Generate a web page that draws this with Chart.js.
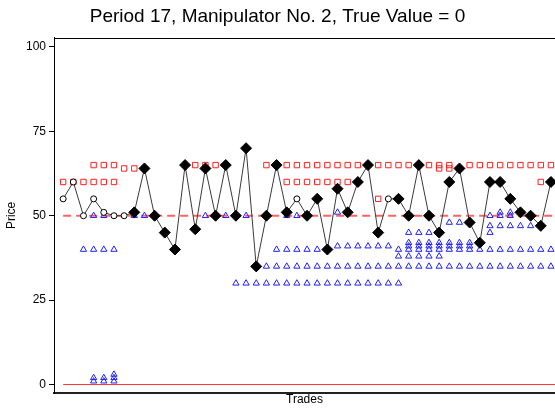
<!DOCTYPE html>
<html>
<head>
<meta charset="utf-8">
<script src="https://cdn.jsdelivr.net/npm/chart.js@4.4.0/dist/chart.umd.min.js"></script>
<style>
  html, body { margin: 0; padding: 0; background: #fff; }
  .period-chart { width: 555px; height: 408px; }
</style>
</head>
<body>
<div class="period-chart"><canvas class="period-chart__canvas" width="555" height="408"></canvas></div>
<script>
const chartTitle = 'Period 17, Manipulator No. 2, True Value = 0';

// transaction prices, trade 1..49
const prices = [55, 60, 50, 55, 51, 50, 50, 51, 64, 50, 45, 40, 65, 46, 64, 50, 65, 50, 70, 35,
                50, 65, 51, 55, 50, 55, 40, 58, 51, 60, 65, 45, 55, 55, 50, 65, 50, 45, 60, 64,
                48, 42, 60, 60, 55, 51, 50, 47, 60];

// trades drawn with the small open marker
const openTrades = [1, 2, 3, 4, 5, 6, 7, 24, 33];

// standing asks [trade, price]
const asks = [
    [1, 60], [2, 60], [3, 60], [4, 60], [5, 60], [6, 60],
    [4, 65], [5, 65], [6, 65], [7, 64], [8, 64],
    [14, 65], [15, 65], [16, 65], [21, 65],
    [23, 65], [24, 65], [25, 65], [26, 65], [27, 65], [28, 65], [29, 65], [30, 65],
    [23, 60], [24, 60], [25, 60], [26, 60], [27, 60], [28, 60], [29, 60],
    [32, 55], [32, 65], [33, 65], [34, 65], [35, 65],
    [37, 65], [38, 65], [39, 65], [38, 64], [39, 64],
    [41, 65], [42, 65], [43, 65], [44, 65], [45, 65], [46, 65], [47, 65], [48, 65], [49, 65],
    [48, 60]
];

// standing bids [trade, price]
const bids = [
    [4, 50], [5, 50], [8, 50], [9, 50], [15, 50], [17, 50], [19, 50], [23, 50], [24, 50],
    [3, 40], [4, 40], [5, 40], [6, 40],
    [4, 1], [4, 2], [5, 1], [5, 2], [6, 1], [6, 2], [6, 3],
    [18, 30], [19, 30], [20, 30], [21, 30], [22, 30], [23, 30], [24, 30], [25, 30], [26, 30],
    [27, 30], [28, 30], [29, 30], [30, 30], [31, 30], [32, 30], [33, 30], [34, 30],
    [21, 35], [22, 35], [23, 35], [24, 35], [25, 35], [26, 35], [27, 35], [28, 35], [29, 35],
    [30, 35], [31, 35], [32, 35], [33, 35], [34, 35], [35, 35], [36, 35], [37, 35], [38, 35],
    [39, 35], [40, 35], [41, 35], [42, 35], [43, 35], [44, 35], [45, 35], [46, 35], [47, 35],
    [48, 35], [49, 35],
    [22, 40], [23, 40], [24, 40], [25, 40], [26, 40], [27, 40],
    [28, 51], [28, 41], [29, 41], [30, 41], [31, 41], [32, 41], [33, 41],
    [34, 40], [34, 38], [35, 38], [36, 38], [37, 38], [38, 38],
    [35, 45], [36, 45], [37, 45],
    [35, 42], [36, 42], [37, 42], [38, 42], [39, 42], [40, 42], [41, 42],
    [35, 41], [36, 41], [37, 41], [38, 41], [39, 41], [40, 41], [41, 41],
    [35, 40], [36, 40], [37, 40], [38, 40], [39, 40], [40, 40], [41, 40],
    [39, 48], [40, 48],
    [42, 40], [43, 40], [44, 40], [45, 40], [46, 40], [47, 40], [48, 40], [49, 40],
    [43, 50], [43, 47], [43, 45], [44, 51], [44, 50], [44, 47],
    [45, 51], [45, 50], [45, 47], [46, 47], [47, 47]
];

const priceTicks = [0, 25, 50, 75, 100];
const equilibriumPrice = 50;
const trueValue = 0;

Chart.defaults.font.family = "'Liberation Sans', Arial, sans-serif";
Chart.defaults.color = '#000';

const frameTop = {
    id: 'frameTop',
    afterDraw(chart) {
        const { ctx, chartArea } = chart;
        ctx.save();
        ctx.strokeStyle = '#000';
        ctx.lineWidth = 1;
        ctx.beginPath();
        ctx.moveTo(chartArea.left, Math.round(chartArea.top) + 0.5);
        ctx.lineTo(chartArea.right, Math.round(chartArea.top) + 0.5);
        ctx.stroke();
        ctx.restore();
    }
};

class PeriodChart {
    constructor(domParent) {
        this.$container = domParent;
        this.$canvas = this.$container.querySelector('.period-chart__canvas');

        this._init();
    }

    _init() {
        this._create_chart();
    }

    _create_chart() {
        const isOpen = (i) => openTrades.includes(i + 1);
        const lastX = 49.4;

        this.chart = new Chart(this.$canvas, {
            type: 'scatter',
            data: {
                datasets: [
                    {
                        type: 'line',
                        label: 'Trades',
                        data: prices.map((p, i) => ({ x: i + 1, y: p })),
                        borderColor: '#3a3a3a',
                        borderWidth: 1,
                        pointStyle: prices.map((p, i) => isOpen(i) ? 'circle' : 'rectRot'),
                        pointRadius: prices.map((p, i) => isOpen(i) ? 3 : 5.5),
                        pointBackgroundColor: prices.map((p, i) => isOpen(i) ? '#fff' : '#000'),
                        pointBorderColor: '#000',
                        pointBorderWidth: 1,
                        order: 0,
                    },
                    {
                        label: 'Asks',
                        data: asks.map(([x, y]) => ({ x, y })),
                        pointStyle: 'rect',
                        pointRadius: 3.8,
                        pointBackgroundColor: 'rgba(0,0,0,0)',
                        pointBorderColor: '#ff2020',
                        pointBorderWidth: 1,
                        order: 2,
                    },
                    {
                        label: 'Bids',
                        data: bids.map(([x, y]) => ({ x, y })),
                        pointStyle: 'triangle',
                        pointRadius: 3.6,
                        pointBackgroundColor: 'rgba(0,0,0,0)',
                        pointBorderColor: '#2020ff',
                        pointBorderWidth: 1,
                        order: 3,
                    },
                    {
                        type: 'line',
                        label: 'Equilibrium',
                        data: [{ x: 1, y: equilibriumPrice }, { x: lastX, y: equilibriumPrice }],
                        borderColor: 'rgba(255,70,70,0.85)',
                        borderWidth: 2,
                        borderDash: [8, 5],
                        pointRadius: 0,
                        order: 4,
                    },
                    {
                        type: 'line',
                        label: 'True value',
                        data: [{ x: 1, y: trueValue }, { x: lastX, y: trueValue }],
                        borderColor: '#ff3030',
                        borderWidth: 1,
                        pointRadius: 0,
                        order: 4,
                    },
                ]
            },
            options: {
                responsive: false,
                animation: false,
                devicePixelRatio: 1,
                layout: { padding: 0, autoPadding: false },
                plugins: {
                    legend: { display: false },
                    tooltip: { enabled: false },
                    title: {
                        display: true,
                        text: chartTitle,
                        font: { size: 19, weight: 'normal' },
                        padding: { top: 5, bottom: 10 },
                    },
                },
                scales: {
                    x: {
                        type: 'linear',
                        min: 0.1,
                        max: lastX,
                        grid: { display: false },
                        ticks: { display: false },
                        border: { color: '#222', width: 2 },
                        title: {
                            display: true,
                            text: 'Trades',
                            font: { size: 12 },
                            padding: { top: 0, bottom: 1 },
                        },
                        afterFit: (scale) => { scale.height = 15; },
                    },
                    y: {
                        min: -2.5,
                        max: 102.7,
                        afterBuildTicks: (scale) => {
                            scale.ticks = priceTicks.map(v => ({ value: v }));
                        },
                        ticks: { font: { size: 12 }, padding: 3 },
                        grid: { drawOnChartArea: false, tickLength: 5, color: '#000' },
                        border: { color: '#000', width: 1 },
                        title: {
                            display: true,
                            text: 'Price',
                            font: { size: 12 },
                        },
                        afterFit: (scale) => { scale.width = 54; },
                    },
                },
            },
            plugins: [frameTop],
        });
    }
}

new PeriodChart(document.querySelector('.period-chart'));
</script>
</body>
</html>
